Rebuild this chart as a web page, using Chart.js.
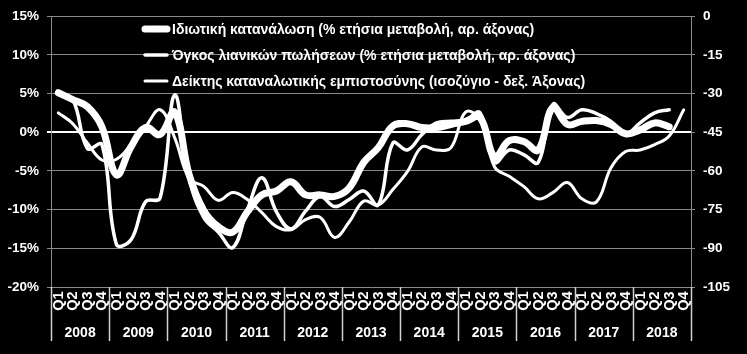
<!DOCTYPE html>
<html>
<head>
<meta charset="utf-8">
<script src="https://cdn.jsdelivr.net/npm/chart.js@4"></script>
<style>
  html, body { margin: 0; padding: 0; background: #000; }
  #wrap { width: 747px; height: 354px; }
</style>
</head>
<body>
<div id="wrap"><canvas id="chart"></canvas></div>
<script>
// Δεδομένα (τριμηνιαία, 2008Q1 - 2018Q4)
const years = ['2008', '2009', '2010', '2011', '2012', '2013', '2014', '2015', '2016', '2017', '2018'];
const quarterLabels = ['Q1', 'Q2', 'Q3', 'Q4'];

// Ιδιωτική κατανάλωση, % ετήσια μεταβολή (αρ. άξονας)
const consumption = [
    5.1, 4.2, 3.3, 0.7,
    -5.5, -1.9, 0.6, -0.3,
    2.6, -5.5, -10.1, -12.2,
    -12.9, -10.3, -8.1, -7.6,
    -6.4, -8.1, -8.1, -8.3,
    -7.2, -3.9, -2.0, 0.8,
    1.1, 0.6, 0.6, 1.0,
    1.4, 1.9, -3.2, -1.1,
    -1.2, -2.3, 3.2, 1.0,
    1.4, 1.5, 1.0, -0.2,
    0.3, 1.2, 0.7, null
];

// Όγκος λιανικών πωλήσεων, % ετήσια μεταβολή (αρ. άξονας)
const retail = [
    5.0, 4.2, -2.1, -1.6,
    -14.5, -13.9, -9.0, -8.5,
    4.8, -6.0, -11.0, -12.9,
    -14.9, -10.0, -5.9, -10.3,
    -12.5, -10.2, -8.3, -9.6,
    -8.7, -7.6, -9.4, -1.4,
    -2.3, -0.3, 1.2, 1.4,
    1.6, 2.5, -3.9, -2.3,
    -2.9, -3.9, 3.6, 1.9,
    2.9, 2.4, 1.4, -0.2,
    1.2, 2.5, 2.9, null
];

// Δείκτης καταναλωτικής εμπιστοσύνης, ισοζύγιο (δεξ. άξονας)
const confidence = [
    -37.5, -41.7, -49.2, -55.8,
    -55.5, -49.8, -42.9, -36.3,
    -47.1, -63.0, -66.0, -71.4,
    -68.4, -71.1, -76.2, -81.6,
    -82.8, -78.9, -78.0, -85.8,
    -79.8, -71.7, -73.2, -67.2,
    -60.3, -50.7, -51.9, -51.0,
    -37.2, -40.2, -58.5, -62.1,
    -66.0, -70.8, -68.4, -64.5,
    -70.8, -72.0, -58.8, -52.5,
    -51.9, -49.8, -46.5, -36.3
];

const categories = [];
years.forEach(y => quarterLabels.forEach(q => categories.push(y + ' ' + q)));

const FONT = 'Arial, "Liberation Sans", sans-serif';

// μαύρο φόντο
const blackBg = {
    id: 'blackBg',
    beforeDraw(chart) {
        const ctx = chart.ctx;
        ctx.save();
        ctx.fillStyle = '#000';
        ctx.fillRect(0, 0, chart.width, chart.height);
        ctx.restore();
    }
};

// ετικέτες τριμήνων / ετών και υπόμνημα
const extras = {
    id: 'extras',
    afterDraw(chart) {
        const { ctx, chartArea } = chart;
        const x = chart.scales.x;
        ctx.save();
        ctx.fillStyle = '#fff';

        // τρίμηνα (κάθετα)
        ctx.font = 'bold 14.5px ' + FONT;
        ctx.textAlign = 'center';
        ctx.textBaseline = 'middle';
        categories.forEach((c, i) => {
            const px = x.getPixelForValue(i);
            ctx.save();
            ctx.translate(px + 0.5, chartArea.bottom + 14);
            ctx.rotate(-Math.PI / 2);
            ctx.fillText(c.split(' ')[1], 0, 0);
            ctx.restore();
        });

        // διαχωριστικά ετών
        const step = x.getPixelForValue(1) - x.getPixelForValue(0);
        ctx.strokeStyle = '#d0d0d0';
        ctx.lineWidth = 1.5;
        for (let k = 0; k <= years.length; k++) {
            const bx = Math.round(x.getPixelForValue(k * 4) - step / 2) + 0.5;
            ctx.beginPath();
            ctx.moveTo(bx, chartArea.bottom);
            ctx.lineTo(bx, chartArea.bottom + 54);
            ctx.stroke();
        }

        // έτη
        ctx.font = 'bold 14px ' + FONT;
        years.forEach((y, k) => {
            const cx = (x.getPixelForValue(k * 4) + x.getPixelForValue(k * 4 + 3)) / 2;
            ctx.fillText(y, cx, chartArea.bottom + 46);
        });

        // υπόμνημα
        ctx.font = 'bold 14px ' + FONT;
        ctx.textAlign = 'left';
        const lx = chartArea.left + 94;
        chart.data.datasets.forEach((ds, i) => {
            const ly = chartArea.top + 13 + i * 26;
            ctx.strokeStyle = '#fff';
            ctx.lineWidth = ds.borderWidth;
            ctx.lineCap = 'round';
            ctx.beginPath();
            ctx.moveTo(lx, ly);
            ctx.lineTo(lx + 22, ly);
            ctx.stroke();
            ctx.fillText(ds.label, lx + 27, ly + 1);
        });
        ctx.restore();
    }
};

const gridColor = '#8a8a8a';

new Chart(document.getElementById('chart'), {
    type: 'line',
    data: {
        labels: categories,
        datasets: [
            {
                label: 'Ιδιωτική κατανάλωση (% ετήσια μεταβολή, αρ. άξονας)',
                data: consumption,
                borderColor: '#fff',
                borderWidth: 7,
                yAxisID: 'y'
            },
            {
                label: 'Όγκος λιανικών πωλήσεων (% ετήσια μεταβολή, αρ. άξονας)',
                data: retail,
                borderColor: '#fff',
                borderWidth: 3.5,
                yAxisID: 'y'
            },
            {
                label: 'Δείκτης καταναλωτικής εμπιστοσύνης (ισοζύγιο - δεξ. Άξονας)',
                data: confidence,
                borderColor: '#fff',
                borderWidth: 3,
                yAxisID: 'y2'
            }
        ]
    },
    options: {
        responsive: true,
        maintainAspectRatio: false,
        animation: false,
        layout: { padding: { top: 16, bottom: 67, left: 0, right: 0 } },
        elements: {
            point: { radius: 0 },
            line: { tension: 0.4, borderCapStyle: 'round', borderJoinStyle: 'round' }
        },
        plugins: {
            legend: { display: false },
            tooltip: { enabled: false }
        },
        scales: {
            x: {
                type: 'category',
                offset: true,
                display: false
            },
            y: {
                position: 'left',
                min: -20,
                max: 15,
                afterFit(s) { s.width = 51; },
                ticks: {
                    stepSize: 5,
                    color: '#fff',
                    padding: 8,
                    font: { family: FONT, size: 13.5, weight: 'bold' },
                    callback: v => v + '%'
                },
                grid: {
                    color: ctx => ctx.tick && ctx.tick.value === 0 ? '#ffffff' : gridColor,
                    lineWidth: ctx => ctx.tick && ctx.tick.value === 0 ? 2 : 1,
                    tickLength: 4
                },
                border: { color: gridColor, width: 1 }
            },
            y2: {
                position: 'right',
                min: -105,
                max: 0,
                afterFit(s) { s.width = 56; },
                ticks: {
                    stepSize: 15,
                    color: '#fff',
                    padding: 8,
                    font: { family: FONT, size: 13.5, weight: 'bold' }
                },
                grid: { drawOnChartArea: false, color: gridColor, tickLength: 4 },
                border: { color: gridColor, width: 1 }
            }
        }
    },
    plugins: [blackBg, extras]
});
</script>
</body>
</html>
